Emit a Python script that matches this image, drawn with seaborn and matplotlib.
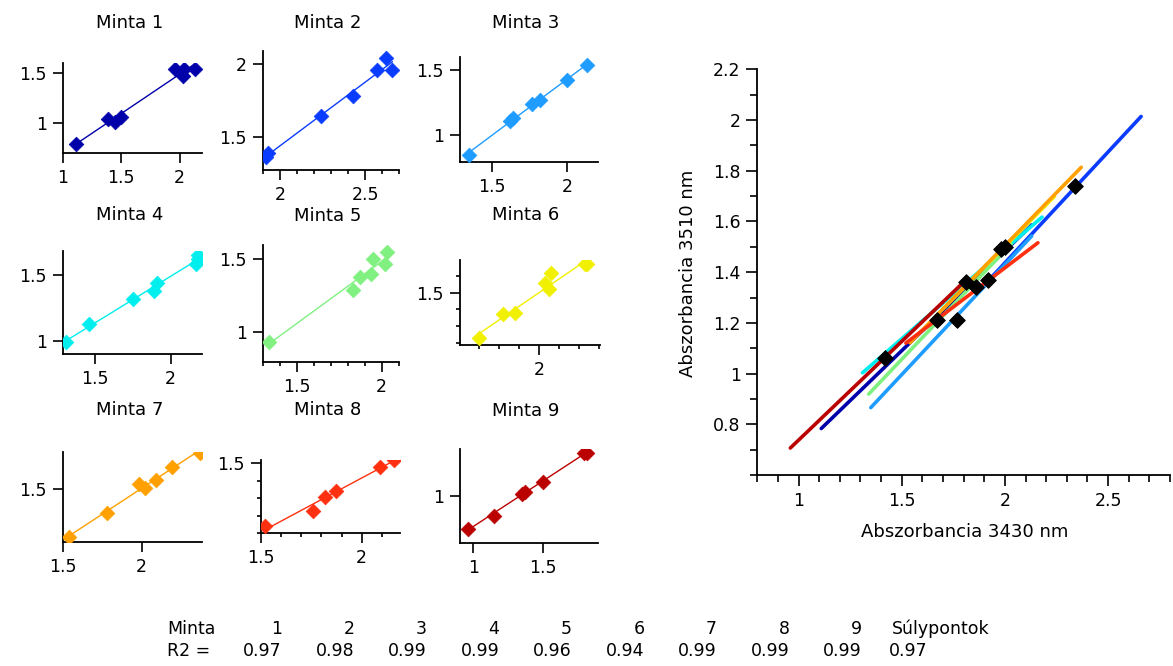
import matplotlib
matplotlib.use("Agg")
import matplotlib.pyplot as plt
import seaborn as sns
import numpy as np
from matplotlib.ticker import MultipleLocator, FixedLocator, FuncFormatter

# %%
# data (Absorbance 3430 nm vs 3510 nm per sample)
m1_x = [1.11, 1.39, 1.45, 1.50, 1.96, 2.03, 2.04, 2.13]
m1_y = [0.79, 1.04, 1.01, 1.06, 1.54, 1.47, 1.54, 1.54]
m2_x = [1.92, 1.93, 2.24, 2.43, 2.57, 2.62, 2.66]
m2_y = [1.36, 1.39, 1.64, 1.78, 1.96, 2.04, 1.96]
m3_x = [1.35, 1.62, 1.64, 1.77, 1.82, 2.00, 2.13]
m3_y = [0.85, 1.11, 1.13, 1.24, 1.27, 1.42, 1.54]
m4_x = [1.31, 1.46, 1.75, 1.89, 1.91, 2.17, 2.18, 2.18]
m4_y = [0.99, 1.13, 1.32, 1.38, 1.44, 1.58, 1.62, 1.65]
m5_x = [1.34, 1.83, 1.87, 1.94, 1.95, 2.02, 2.03]
m5_y = [0.93, 1.29, 1.38, 1.40, 1.50, 1.47, 1.55]
m6_x = [1.70, 1.82, 1.88, 2.03, 2.05, 2.06, 2.23, 2.24]
m6_y = [1.23, 1.37, 1.38, 1.56, 1.52, 1.62, 1.67, 1.67]
m7_x = [1.54, 1.78, 1.98, 2.02, 2.09, 2.19, 2.37]
m7_y = [1.11, 1.31, 1.54, 1.51, 1.57, 1.68, 1.79]
m8_x = [1.52, 1.76, 1.82, 1.87, 2.09, 2.16]
m8_y = [1.14, 1.23, 1.31, 1.34, 1.48, 1.52]
m9_x = [0.96, 1.15, 1.35, 1.37, 1.50, 1.80, 1.82]
m9_y = [0.72, 0.83, 1.02, 1.03, 1.12, 1.37, 1.37]

# centroids (Súlypontok)
cent_x = [1.42, 1.67, 1.77, 1.81, 1.86, 1.92, 1.98, 2.00, 2.34]
cent_y = [1.06, 1.21, 1.21, 1.36, 1.34, 1.37, 1.49, 1.50, 1.74]

table_head = ["1", "2", "3", "4", "5", "6", "7", "8", "9"]
r2_values = ["0.97", "0.98", "0.99", "0.99", "0.96", "0.94", "0.99", "0.99", "0.99"]
r2_centroid = "0.97"

samples = [(m1_x, m1_y), (m2_x, m2_y), (m3_x, m3_y), (m4_x, m4_y), (m5_x, m5_y),
           (m6_x, m6_y), (m7_x, m7_y), (m8_x, m8_y), (m9_x, m9_y)]
colors = ["#0000aa", "#0a3cff", "#1e9cff", "#00eeee", "#80f080",
          "#f0f000", "#ffa000", "#ff3010", "#bb0000"]

# %%
# layout in pixels: left, right, top, bottom ; limits ; ticks
W, H = 1173, 666
boxes = [(62.7, 201.7, 63.3, 153), (262.7, 399.3, 50.7, 170), (460, 598.3, 57.3, 161.7),
         (62.7, 201.7, 250.7, 354.3), (262.7, 399.3, 245, 361.7), (460, 600, 260, 345),
         (62.7, 201.7, 451.7, 541.7), (261, 400, 460, 533.3), (460, 598.3, 449.3, 543.3)]
xlims = [(1.0, 2.19), (1.898, 2.70), (1.291, 2.205), (1.286, 2.205), (1.30, 2.104),
         (1.603, 2.303), (1.5, 2.38), (1.5, 2.19), (0.904, 1.901)]
ylims = [(0.697, 1.594), (1.27, 2.09), (0.795, 1.597), (0.899, 1.684), (0.793, 1.599),
         (1.186, 1.696), (1.075, 1.80), (1.1, 1.52), (0.593, 1.40)]
xmajor = [[1, 1.5, 2], [2, 2.5], [1.5, 2], [1.5, 2], [1.5, 2], [2], [1.5, 2], [1.5, 2], [1, 1.5]]
ymajor = [[1, 1.5], [1.5, 2], [1, 1.5], [1, 1.5], [1, 1.5], [1.5], [1.5], [1.5], [1]]
xminor = [False, True, False, False, True, True, False, True, False]
yminor = [False, False, False, False, False, True, False, True, False]
title_pos = [(130, 23), (328, 23), (526, 23), (130, 215), (328, 216), (526, 215),
             (130, 410), (328, 410), (526, 411)]

sns.set_style("ticks")
plt.rcParams["font.family"] = ["DejaVu Sans"]
plt.rcParams["text.color"] = "black"
plt.rcParams["axes.labelcolor"] = "black"
plt.rcParams["xtick.color"] = "black"
plt.rcParams["ytick.color"] = "black"
fmt = FuncFormatter(lambda v, p: "%g" % round(v, 3))

fig = plt.figure(figsize=(W / 100, H / 100), dpi=100)
fig.patch.set_facecolor("white")


def style_axes(ax, major_len=7.5, minor_len=3):
    for s in ["top", "right"]:
        ax.spines[s].set_visible(False)
    for s in ["left", "bottom"]:
        ax.spines[s].set_linewidth(1.3)
        ax.spines[s].set_color("black")
    ax.tick_params(which="major", length=major_len, width=1.2, labelsize=12.5,
                   pad=4, colors="black", labelcolor="black")
    ax.tick_params(which="minor", length=minor_len, width=1.2, colors="black")
    ax.xaxis.set_major_formatter(fmt)
    ax.yaxis.set_major_formatter(fmt)
    ax.set_xlabel("")
    ax.set_ylabel("")
    ax.set_facecolor("white")
    ax.grid(False)


for i, (xs, ys) in enumerate(samples):
    l, r, t, b = boxes[i]
    ax = fig.add_axes([l / W, 1 - b / H, (r - l) / W, (b - t) / H])
    sns.regplot(x=np.array(xs), y=np.array(ys), ax=ax, ci=None, scatter=False,
                truncate=True, color=colors[i], line_kws={"lw": 1})
    sns.scatterplot(x=xs, y=ys, ax=ax, marker="D", s=56, color=colors[i],
                    edgecolor=colors[i], linewidth=0.5, zorder=3, clip_on=True)
    ax.set_xlim(*xlims[i])
    ax.set_ylim(*ylims[i])
    ax.xaxis.set_major_locator(FixedLocator(xmajor[i]))
    ax.yaxis.set_major_locator(FixedLocator(ymajor[i]))
    if xminor[i]:
        ax.xaxis.set_minor_locator(MultipleLocator(0.1))
    if yminor[i]:
        ax.yaxis.set_minor_locator(MultipleLocator(0.1))
    style_axes(ax)
    fig.text(title_pos[i][0] / W, 1 - title_pos[i][1] / H, "Minta %d" % (i + 1),
             ha="center", va="center", fontsize=13, color="black")

# %%
# big overview panel
l, r, t, b = 757.3, 1170, 69.3, 475
axb = fig.add_axes([l / W, 1 - b / H, (r - l) / W, (b - t) / H])
for i, (xs, ys) in enumerate(samples):
    sns.regplot(x=np.array(xs), y=np.array(ys), ax=axb, ci=None, scatter=False,
                truncate=True, color=colors[i], line_kws={"lw": 2.6})
sns.scatterplot(x=cent_x, y=cent_y, ax=axb, marker="D", s=64, color="black",
                edgecolor="black", zorder=5)
axb.set_xlim(0.8, 2.8)
axb.set_ylim(0.6, 2.2)
axb.xaxis.set_major_locator(FixedLocator([1, 1.5, 2, 2.5]))
axb.xaxis.set_minor_locator(MultipleLocator(0.1))
axb.yaxis.set_major_locator(FixedLocator([0.8, 1.0, 1.2, 1.4, 1.6, 1.8, 2.0, 2.2]))
axb.yaxis.set_minor_locator(MultipleLocator(0.1))
style_axes(axb, major_len=8, minor_len=5)
fig.text(688 / W, 1 - 273 / H, "Abszorbancia 3510 nm", rotation=90,
         ha="center", va="center", fontsize=13, color="black")
fig.text(965 / W, 1 - 532 / H, "Abszorbancia 3430 nm",
         ha="center", va="center", fontsize=13, color="black")

# %%
# R2 table
row1, row2 = 1 - 629 / H, 1 - 651 / H
fig.text(167 / W, row1, "Minta", ha="left", va="center", fontsize=12.5, color="black")
fig.text(167 / W, row2, "R2 =", ha="left", va="center", fontsize=12.5, color="black")
for k in range(len(table_head)):
    xr = (282 + 72.5 * k) / W
    fig.text(xr, row1, table_head[k], ha="right", va="center", fontsize=12.5, color="black")
    fig.text(xr, row2, r2_values[k], ha="right", va="center", fontsize=12.5, color="black")
fig.text(892 / W, row1, "Súlypontok", ha="left", va="center", fontsize=12.5, color="black")
fig.text(889 / W, row2, r2_centroid, ha="left", va="center", fontsize=12.5, color="black")

fig.savefig("out.png", dpi=100, facecolor="white")
